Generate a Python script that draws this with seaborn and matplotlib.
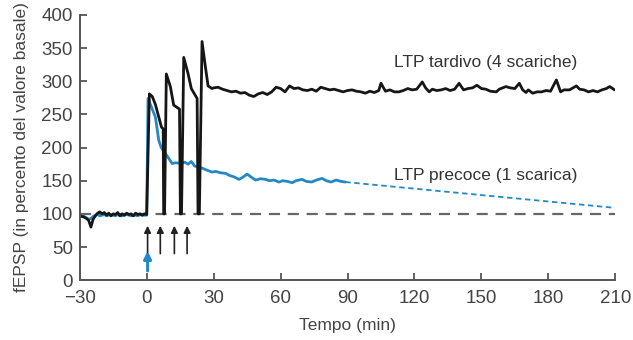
import numpy as np
import pandas as pd
import matplotlib
matplotlib.use('Agg')
import matplotlib.pyplot as plt
import seaborn as sns

# LTP tardivo (4 scariche) - tempo (min), fEPSP (%)
black_t = [-30, -29, -28, -27, -26, -25, -24, -23, -22, -21, -20, -19, -18, -17, -16,
           -15, -14, -13, -12, -11, -10, -9, -8, -7, -6, -5, -4, -3, -2, -1, 0,
           1.2, 2.5, 3.9, 5.4, 6.6, 7.4, 7.6, 8.0, 8.8, 10.6, 12.1, 14.7, 15.1, 15.6,
           16.6, 18.5, 20, 22.6, 23, 23.6, 24.8, 26.3, 27.5, 29.3, 30,
           32, 34, 36, 38, 40, 42, 44, 46, 48, 50, 52, 54, 56, 58, 60, 62, 64, 66, 68,
           70, 72, 74, 76, 78, 80, 82, 84, 86, 88, 90, 92, 94, 96, 98, 100, 102, 104,
           105, 107, 109, 111, 113, 115, 117, 119, 121, 123.5, 125, 126.6, 128, 130,
           132, 134, 136, 138, 140, 142, 144, 146, 148, 150, 152, 154, 156.7, 158, 161,
           163, 165, 167, 168.5, 170, 171, 173, 175, 177, 179, 181, 183.6, 185.5, 187,
           189.5, 191, 192.6, 194, 196, 198, 200, 202, 204, 206, 207.5, 209.7]
black_v = [97, 96, 95, 93, 90, 80, 92, 97, 101, 103, 100, 102, 98, 101, 97,
           100, 99, 102, 97, 100, 98, 101, 99, 100, 97, 101, 99, 100, 98, 100, 99,
           281, 277, 265, 246, 231, 228, 100, 100, 311, 292, 264, 258, 100, 100,
           336, 312, 289, 274, 100, 100, 360, 322, 293, 289, 290,
           291, 288, 286, 284, 285, 282, 283, 279, 277, 281, 283, 280, 284, 291, 289,
           284, 293, 289, 290, 287, 286, 288, 285, 291, 289, 287, 288, 286, 284, 286,
           287, 285, 284, 282, 285, 283, 286, 297, 285, 287, 284, 284, 286, 289, 287,
           288, 299, 290, 284, 288, 286, 287, 289, 286, 288, 297, 287, 289, 290, 294,
           289, 288, 285, 284, 288, 292, 290, 289, 297, 287, 283, 287, 282, 284, 284,
           286, 285, 302, 284, 287, 287, 290, 293, 288, 287, 284, 286, 284, 287, 289,
           292, 287]

# LTP precoce (1 scarica)
blue_t = [-30, -29, -28, -27, -26, -25, -24, -23, -22, -21, -20, -19, -18, -17, -16,
          -15, -14, -13, -12, -11, -10, -9, -8, -7, -6, -5, -4, -3, -2, -1, 0,
          0.6, 2, 3.9, 5.4, 6.5, 8.4, 10, 11.4, 13, 15.7, 17, 18.5, 20, 21.5, 23,
          24.8, 27, 29.3, 31, 33, 35.4, 37, 39, 41.3, 43, 45, 47, 48.8, 51, 53.3,
          55, 57, 59.3, 61, 63, 65.2, 67, 69.6, 71.5, 74, 76, 78.6, 80.5, 82.6,
          84.9, 87, 89]
blue_v = [98, 97, 96, 94, 92, 93, 96, 98, 99, 97, 98, 99, 97, 98, 99,
          98, 97, 99, 98, 97, 98, 99, 98, 97, 98, 98, 97, 99, 98, 98, 98,
          274, 262, 246, 211, 200, 191, 183, 176, 177, 176, 178, 175, 179, 172, 171,
          169, 166, 163, 164, 162, 161, 158, 156, 152, 155, 160, 155, 151, 153, 152,
          150, 151, 148, 150, 149, 147, 150, 152, 149, 148, 151, 153.5, 150, 148,
          151, 149, 148]

# estrapolazione (tratteggiata)
ext_t = [89, 210]
ext_v = [148, 109]

baseline_t = [-30, 210]
baseline_v = [100, 100]

# frecce: stimoli
black_arrow_x = [0.4, 6.1, 12.4, 18.1]
blue_arrow_x = [0.4]

xticks = list(range(-30, 211, 30))
yticks = list(range(0, 401, 50))

sns.set_style('ticks')
plt.rcParams['font.family'] = ['Liberation Sans', 'DejaVu Sans']
plt.rcParams['axes.unicode_minus'] = True

blue = '#2389c4'
grey = '#555555'

fig = plt.figure(figsize=(6.33, 3.40), dpi=100)
ax = fig.add_axes([0.126, 0.176, 0.846, 0.78])

sns.lineplot(x=baseline_t, y=baseline_v, ax=ax, color='#666666', lw=1.6,
             linestyle=(0, (5, 3.5)), estimator=None, sort=False)
sns.lineplot(x=ext_t, y=ext_v, ax=ax, color=blue, lw=1.3,
             linestyle=(0, (3, 2)), estimator=None, sort=False)
sns.lineplot(x=blue_t, y=blue_v, ax=ax, color=blue, lw=2.0,
             estimator=None, sort=False)
sns.lineplot(x=black_t, y=black_v, ax=ax, color='#161616', lw=2.0,
             estimator=None, sort=False)

for xa in black_arrow_x:
    ax.annotate('', xy=(xa, 82), xytext=(xa, 40),
                arrowprops=dict(arrowstyle='-|>', color='#222222', lw=1.2,
                                mutation_scale=10, shrinkA=0, shrinkB=0))
for xa in blue_arrow_x:
    ax.annotate('', xy=(xa, 44), xytext=(xa, 14),
                arrowprops=dict(arrowstyle='-|>', color=blue, lw=2.2,
                                mutation_scale=11, shrinkA=0, shrinkB=0))

ax.text(111, 329, 'LTP tardivo (4 scariche)', fontsize=12.5, color='#333333',
        ha='left', va='center')
ax.text(111, 158, 'LTP precoce (1 scarica)', fontsize=12.5, color='#333333',
        ha='left', va='center')

ax.set_xlim(-30, 210)
ax.set_ylim(0, 400)
ax.set_xticks(xticks)
ax.set_yticks(yticks)
ax.tick_params(direction='in', length=5, width=1.3, color=grey,
               labelcolor='#444444', labelsize=13.5)
ax.tick_params(axis='x', pad=7)
ax.tick_params(axis='y', pad=5)
for s in ['left', 'bottom']:
    ax.spines[s].set_color(grey)
    ax.spines[s].set_linewidth(1.4)
sns.despine(ax=ax)
ax.set_xlabel('Tempo (min)', fontsize=12.5, color='#444444', labelpad=8)
ax.set_ylabel('fEPSP (in percento del valore basale)', fontsize=12.5,
              color='#444444', labelpad=9)

fig.savefig('out.png', dpi=100)
